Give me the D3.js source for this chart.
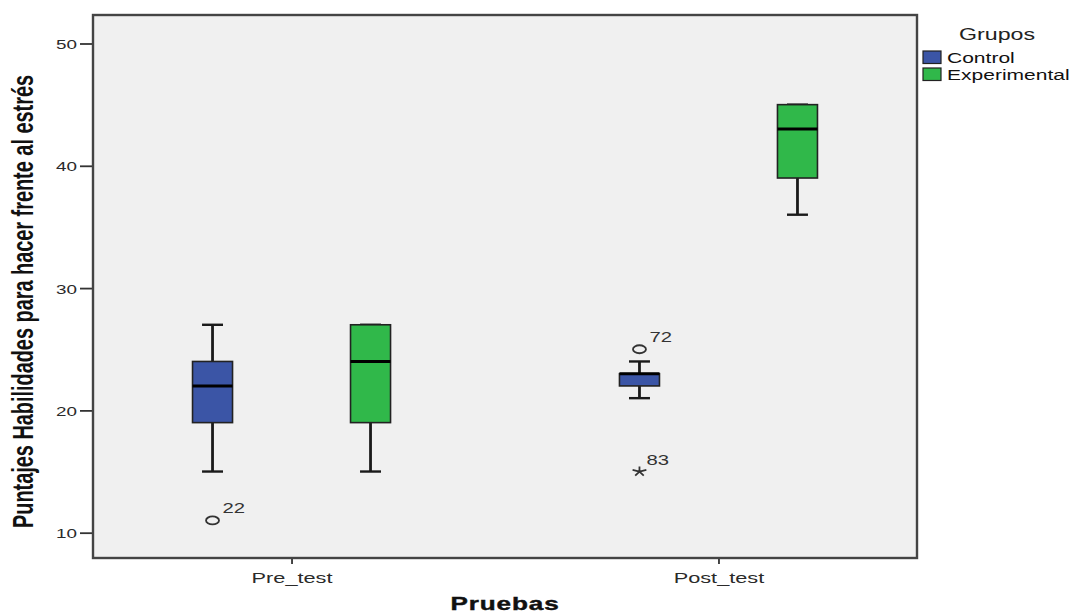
<!DOCTYPE html>
<html>
<head>
<meta charset="utf-8">
<script src="https://cdnjs.cloudflare.com/ajax/libs/d3/7.8.5/d3.min.js"></script>
<style>
  html, body { margin: 0; padding: 0; background: #ffffff; }
  svg { display: block; }
</style>
</head>
<body>
<svg id="chart" width="1073" height="613"></svg>
<script>
// Categories and groups
const categories = ["Pre_test", "Post_test"];
const groups = ["Control", "Experimental"];
const groupColors = ["#3b55a6", "#30b84a"];

// Box statistics per category: [lower whisker, Q1, median, Q3, upper whisker]
const controlStats = [
  [15, 19, 22, 24, 27],
  [21, 22, 23, 23, 24]
];
const experimentalStats = [
  [15, 19, 24, 27, 27],
  [36, 39, 43, 45, 45]
];

// Outliers (o) and extremes (*)
const outlierCategory = ["Pre_test", "Post_test", "Post_test"];
const outlierGroup = ["Control", "Control", "Control"];
const outlierValue = [11, 25, 15];
const outlierKind = ["circle", "circle", "star"];
const outlierLabel = ["22", "72", "83"];

const yTicks = [10, 20, 30, 40, 50];

const FONT = "Liberation Sans, Arial, sans-serif";
const SX = 1.45; // horizontal widening of the lettering

const svg = d3.select("#chart");
const plot = { left: 93, right: 917, top: 15, bottom: 558 };

const x = d3.scalePoint().domain(categories).range([plot.left, plot.right]).padding(0.465);
const xGroup = d3.scaleBand().domain(groups).range([-118.5, 118.5]).paddingInner(0.5).paddingOuter(0);
const y = d3.scaleLinear().domain([7.93, 52.33]).range([plot.bottom, plot.top]);
const boxW = 40;

function wideText(parent, tx, ty, str, opts) {
  return parent.append("text")
    .attr("transform", `translate(${tx},${ty}) scale(${SX},1)`)
    .attr("text-anchor", opts.anchor || "start")
    .attr("font-family", FONT)
    .attr("font-size", opts.size)
    .attr("font-weight", opts.weight || "normal")
    .attr("letter-spacing", opts.spacing || 0)
    .attr("fill", opts.fill || "#333")
    .text(str);
}

// Plot background
svg.append("rect")
  .attr("x", plot.left).attr("y", plot.top)
  .attr("width", plot.right - plot.left).attr("height", plot.bottom - plot.top)
  .attr("fill", "#f0f0f0");

// Y axis
const yAxis = svg.append("g")
  .attr("transform", `translate(${plot.left},0)`)
  .call(d3.axisLeft(y).tickValues(yTicks).tickSize(13).tickPadding(3));
yAxis.select(".domain").remove();
yAxis.selectAll(".tick line").attr("stroke", "#333").attr("stroke-width", 1.8);
yAxis.selectAll(".tick text")
  .attr("font-family", FONT).attr("font-size", 13).attr("fill", "#2a2a2a")
  .attr("x", -16 / SX).attr("dy", "0.4em")
  .attr("transform", `scale(${SX},1)`);

// X axis
const xAxis = svg.append("g")
  .attr("transform", `translate(0,${plot.bottom})`)
  .call(d3.axisBottom(x).tickSize(6).tickPadding(8));
xAxis.select(".domain").remove();
xAxis.selectAll(".tick line").attr("stroke", "#333").attr("stroke-width", 1.8);
xAxis.selectAll(".tick text")
  .attr("font-family", FONT).attr("font-size", 15).attr("fill", "#2a2a2a")
  .attr("transform", `scale(${SX},1)`);

// Box plots
const boxes = [];
categories.forEach((c, i) => {
  boxes.push({ cat: c, group: "Control", color: groupColors[0], s: controlStats[i] });
  boxes.push({ cat: c, group: "Experimental", color: groupColors[1], s: experimentalStats[i] });
});

const bg = svg.append("g");
boxes.forEach(b => {
  const cx = x(b.cat) + xGroup(b.group) + xGroup.bandwidth() / 2;
  const [lo, q1, med, q3, hi] = b.s;
  const g = bg.append("g");
  // whiskers
  g.append("line").attr("x1", cx).attr("x2", cx).attr("y1", y(hi)).attr("y2", y(q3))
    .attr("stroke", "#1a1a1a").attr("stroke-width", 2.8);
  g.append("line").attr("x1", cx).attr("x2", cx).attr("y1", y(q1)).attr("y2", y(lo))
    .attr("stroke", "#1a1a1a").attr("stroke-width", 2.8);
  // caps
  [lo, hi].forEach(v => {
    g.append("line").attr("x1", cx - 10.5).attr("x2", cx + 10.5).attr("y1", y(v)).attr("y2", y(v))
      .attr("stroke", "#1a1a1a").attr("stroke-width", 2.4);
  });
  // box
  g.append("rect")
    .attr("x", cx - boxW / 2).attr("y", y(q3))
    .attr("width", boxW).attr("height", y(q1) - y(q3))
    .attr("fill", b.color).attr("stroke", "#222").attr("stroke-width", 1.6);
  // median
  g.append("line").attr("x1", cx - boxW / 2).attr("x2", cx + boxW / 2).attr("y1", y(med)).attr("y2", y(med))
    .attr("stroke", "#000").attr("stroke-width", 3);
});

// Outliers
const og = svg.append("g");
outlierValue.forEach((v, i) => {
  const cx = x(outlierCategory[i]) + xGroup(outlierGroup[i]) + xGroup.bandwidth() / 2;
  const cy = y(v);
  if (outlierKind[i] === "circle") {
    og.append("ellipse").attr("cx", cx).attr("cy", cy).attr("rx", 6.5).attr("ry", 4)
      .attr("fill", "none").attr("stroke", "#333").attr("stroke-width", 1.8);
  } else {
    // five-armed asterisk, widened like the lettering
    const p = d3.path();
    for (let k = 0; k < 5; k++) {
      const a = -Math.PI / 2 + k * 2 * Math.PI / 5;
      p.moveTo(0, 0);
      p.lineTo(Math.cos(a) * 5 * SX, Math.sin(a) * 5);
    }
    og.append("path")
      .attr("transform", `translate(${cx},${cy})`)
      .attr("d", p.toString())
      .attr("fill", "none").attr("stroke", "#333").attr("stroke-width", 1.8);
  }
  wideText(og, cx + (outlierKind[i] === "circle" ? 10 : 7), cy - 7, outlierLabel[i], { size: 14 });
});

// Frame
svg.append("rect")
  .attr("x", plot.left).attr("y", plot.top)
  .attr("width", plot.right - plot.left).attr("height", plot.bottom - plot.top)
  .attr("fill", "none").attr("stroke", "#444").attr("stroke-width", 2.4);

// Axis titles
svg.append("text")
  .attr("transform", `translate(33,${(75 + 528) / 2}) scale(${SX},1) rotate(-90)`)
  .attr("text-anchor", "middle")
  .attr("font-family", "Liberation Sans Narrow, Arial Narrow, Liberation Sans, sans-serif")
  .attr("font-weight", "bold").attr("font-size", 20).attr("fill", "#111")
  .attr("textLength", 453).attr("lengthAdjust", "spacingAndGlyphs")
  .text("Puntajes Habilidades para hacer frente al estrés");

wideText(svg, 505, 610, "Pruebas", { size: 18, weight: "bold", anchor: "middle", spacing: 0.6, fill: "#111" })
  .attr("stroke", "#111").attr("stroke-width", 0.4);

// Legend
const lg = svg.append("g");
wideText(lg, 997, 40, "Grupos", { size: 16, anchor: "middle", fill: "#222" });
groups.forEach((gname, i) => {
  const yy = 51 + i * 17;
  lg.append("rect").attr("x", 923).attr("y", yy).attr("width", 18).attr("height", 12.5)
    .attr("fill", groupColors[i]).attr("stroke", "#222").attr("stroke-width", 1.2);
  wideText(lg, 947, yy + 12, gname, { size: 14.5, fill: "#111" });
});
</script>
</body>
</html>
